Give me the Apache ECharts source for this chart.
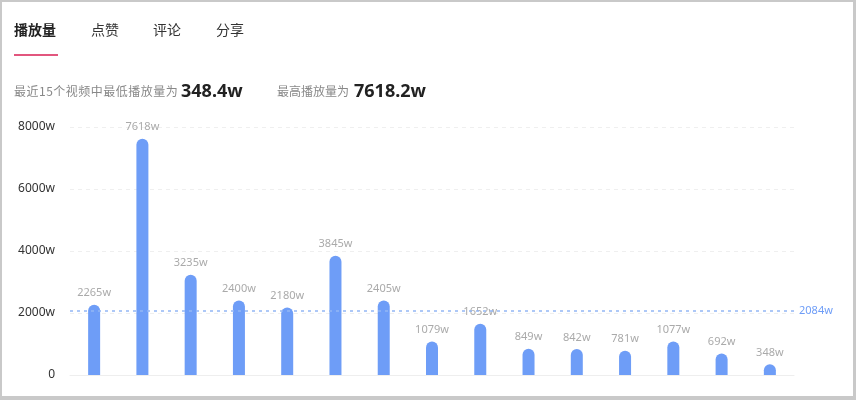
<!DOCTYPE html>
<html>
<head>
<meta charset="utf-8">
<script src="https://cdn.jsdelivr.net/npm/echarts@6/dist/echarts.min.js"></script>
<style>
html,body{margin:0;padding:0;background:#fff;}
body{width:856px;height:400px;position:relative;overflow:hidden;font-family:"Noto Sans CJK SC","Noto Sans",sans-serif;}
#frame{position:absolute;left:0;top:0;width:856px;height:400px;box-sizing:border-box;border:2px solid #c9c9c9;border-right-width:3px;border-bottom-width:4px;pointer-events:none;z-index:5;}
#chart{position:absolute;left:0;top:0;width:856px;height:400px;}
.tab{position:absolute;top:19px;font-size:14px;color:#333;line-height:20px;z-index:3;}
.tab.on{font-weight:bold;color:#222;}
#bar{position:absolute;left:14px;top:54px;width:44px;height:2px;background:#e2567e;z-index:3;}
.sub{position:absolute;top:83px;font-size:12px;color:#888;line-height:16px;z-index:3;}
.big{position:absolute;top:78px;font-size:18px;font-weight:bold;color:#222;line-height:24px;z-index:3;font-family:"Noto Sans","Open Sans",sans-serif;}
</style>
</head>
<body>
<div id="chart"></div>
<div class="tab on" style="left:14px">播放量</div>
<div class="tab" style="left:91px">点赞</div>
<div class="tab" style="left:153px">评论</div>
<div class="tab" style="left:216px">分享</div>
<div id="bar"></div>
<div class="sub" style="left:14px;letter-spacing:0.5px">最近15个视频中最低播放量为</div>
<div class="big" style="left:181px">348.4w</div>
<div class="sub" style="left:277px">最高播放量为</div>
<div class="big" style="left:354px">7618.2w</div>
<div id="frame"></div>
<script>
// 最近15个视频
var videos = ['1','2','3','4','5','6','7','8','9','10','11','12','13','14','15'];
// 播放量(万)
var plays = [2265, 7618, 3235, 2400, 2180, 3845, 2405, 1079, 1652, 849, 842, 781, 1077, 692, 348];
var avgPlay = 2084;
var yTicks = [0, 2000, 4000, 6000, 8000];

var chart = echarts.init(document.getElementById('chart'));
var option = {
	animation: false,
	grid: {
		left: 70,
		right: 62,
		top: 127,
		bottom: 25
	},
	xAxis: {
		type: 'category',
		data: videos,
		axisLine: {lineStyle: {color: '#eeeeee'}},
		axisTick: {show: false},
		axisLabel: {show: false}
	},
	yAxis: {
		type: 'value',
		min: yTicks[0],
		max: yTicks[yTicks.length - 1],
		interval: 2000,
		axisLine: {show: false},
		axisTick: {show: false},
		axisLabel: {
			margin: 15,
			color: '#333',
			fontSize: 12,
			fontFamily: 'Noto Sans',
			formatter: function(v){
				return v == 0 ? '0' : v + 'w';
			}
		},
		splitLine: {
			lineStyle: {color: '#efefef', type: [4, 4]}
		}
	},
	series: [
		{
			name: '播放量',
			type: 'bar',
			data: plays,
			barWidth: 12,
			itemStyle: {
				color: '#6e9df7',
				borderRadius: [6, 6, 0, 0]
			},
			label: {
				show: true,
				position: 'top',
				distance: 6,
				color: '#aaaaaa',
				fontSize: 11,
				fontFamily: 'Noto Sans',
				formatter: function(p){
					return p.value + 'w';
				}
			},
			markLine: {
				symbol: 'none',
				silent: true,
				lineStyle: {color: '#93b7f5', type: [3, 4], width: 1.5},
				label: {
					position: 'end',
					color: '#6e9df7',
					fontSize: 11,
					fontFamily: 'Noto Sans',
					formatter: function(p){
						return p.value + 'w';
					}
				},
				data: [{yAxis: avgPlay}]
			}
		}
	]
};
chart.setOption(option);
</script>
</body>
</html>
